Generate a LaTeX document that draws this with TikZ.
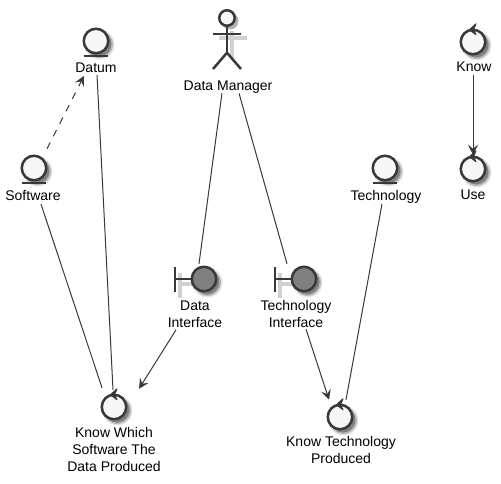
\documentclass[tikz,border=0pt]{standalone}
\usepackage{fontspec}
\setmainfont{Liberation Sans}
\usetikzlibrary{arrows.meta}
\definecolor{linecol}{HTML}{383838}
\definecolor{fillcol}{HTML}{F7F7F7}
\definecolor{ifacecol}{HTML}{808080}
\tikzset{
  icon/.style={circle,draw=linecol,line width=2.5pt,fill=fillcol,minimum size=24.5pt,inner sep=0pt,outer sep=0pt},
  ifaceicon/.style={icon,fill=ifacecol},
  headicon/.style={icon,minimum size=15.5pt},
  lbl/.style={align=center,font=\fontsize{14}{17}\selectfont,inner sep=0pt,outer sep=0pt,text=black},
  link/.style={draw=linecol,line width=1pt},
  linkarrow/.style={link,-{Stealth[length=10pt,width=10pt,inset=4pt]}},
  heavy/.style={draw=linecol,line width=2.5pt},
  chevron/.style={draw=linecol,fill=linecol,line width=1pt,line join=round},
  ghost/.style={draw=black!18,line width=3.5pt}
}
\begin{document}
\begin{tikzpicture}[x=1pt,y=-1pt]
\useasboundingbox (0,0) rectangle (501,484);

% Shadows
\foreach \x/\y in {96/41,34/168,385/168,204/279,304/279,114/407,340/417,473/42,473/169} {
  \fill[black!10] (\x+3.5,\y+3.5) circle (15);
  \fill[black!28] (\x+3.5,\y+3.5) circle (13.5);
  \fill[black!50] (\x+3,\y+3) circle (12.5);
}
\fill[black!30] (230,21) circle (8.5);
\draw[ghost] (232,31) -- (232,58) (219,38) -- (247,38);
\draw[ghost] (180,273) -- (180,298) (180,284) -- (197,284);
\draw[ghost] (280,273) -- (280,298) (280,284) -- (297,284);

% Actor
\node[headicon] (manager) at (227,18) {};
\draw[heavy] (manager.south) -- ++(0,27) coordinate (hip);
\draw[heavy] (213,34) -- (241,34);
\draw[heavy] (213,69) -- (hip) -- (241,69);
\node[lbl] (managerlbl) at (228,87) {Data Manager};

% Entities
\node[icon] (datum) at (96,41) {};
\node[icon] (software) at (34,168) {};
\node[icon] (technology) at (385,168) {};
\foreach \n in {datum,software,technology}
  \draw[heavy] ([xshift=-12pt,yshift=-3pt]\n.south) -- ([xshift=12pt,yshift=-3pt]\n.south);
\node[lbl] (datumlbl) at (96,68) {Datum};
\node[lbl] (softwarelbl) at (33,196) {Software};
\node[lbl] (technologylbl) at (386,196.5) {Technology};

% Boundaries
\node[ifaceicon] (dataif) at (204,279) {};
\node[ifaceicon] (techif) at (304,279) {};
\foreach \n in {dataif,techif} {
  \draw[heavy] ([xshift=-29pt,yshift=-12.5pt]\n.center) -- ([xshift=-29pt,yshift=12.5pt]\n.center);
  \draw[heavy] ([xshift=-29pt]\n.center) -- (\n.west);
}
\node[lbl] (dataiflbl) at (195,314.5) {Data\\Interface};
\node[lbl] (techiflbl) at (296,313.5) {Technology\\Interface};

% Controls
\node[icon] (knowwhich) at (114,407) {};
\node[icon] (knowtech) at (340,417) {};
\node[icon] (know) at (473,42) {};
\node[icon] (use) at (473,169) {};
\foreach \n in {knowwhich,knowtech,know,use}
  \draw[chevron] ([shift={(3,-6)}]\n.north) -- ([shift={(-3.5,0)}]\n.north) -- ([shift={(3,5)}]\n.north) -- ([shift={(0.5,0)}]\n.north) -- cycle;
\node[lbl] (knowwhichlbl) at (114,449.5) {Know Which\\Software The\\Data Produced};
\node[lbl] (knowtechlbl) at (341,449.5) {Know Technology\\Produced};
\node[lbl] (knowlbl) at (474,67) {Know};
\node[lbl] (uselbl) at (473,195) {Use};

% Connectors
\draw[link,dash pattern=on 7pt off 7pt,-{Stealth[length=10pt,width=10pt,inset=4pt]}]
  ([xshift=13pt,yshift=7pt]software.north) -- ([xshift=-12pt,yshift=-3pt]datumlbl.south);
\draw[link] ([xshift=1pt,yshift=-2pt]datumlbl.south) -- ([xshift=-1pt,yshift=5pt]knowwhich.north);
\draw[link] ([xshift=8pt,yshift=-3pt]softwarelbl.south) -- ([xshift=-12pt,yshift=7pt]knowwhich.north);
\draw[link] ([xshift=-6pt]managerlbl.south) -- ([xshift=-5pt,yshift=3pt]dataif.north);
\draw[link] ([xshift=11pt]managerlbl.south) -- ([xshift=-17pt,yshift=3pt]techif.north);
\draw[linkarrow] ([xshift=-19pt,yshift=-2pt]dataiflbl.south) -- ([xshift=25pt,yshift=6pt]knowwhich.north);
\draw[linkarrow] ([xshift=10pt,yshift=-2pt]techiflbl.south) -- ([xshift=-11pt,yshift=5pt]knowtech.north);
\draw[link] ([xshift=-4pt,yshift=-1pt]technologylbl.south) -- ([xshift=6pt,yshift=5pt]knowtech.north);
\draw[linkarrow] ([yshift=-3pt]know |- knowlbl.south) -- ([yshift=2pt]use.north);
\end{tikzpicture}
\end{document}
